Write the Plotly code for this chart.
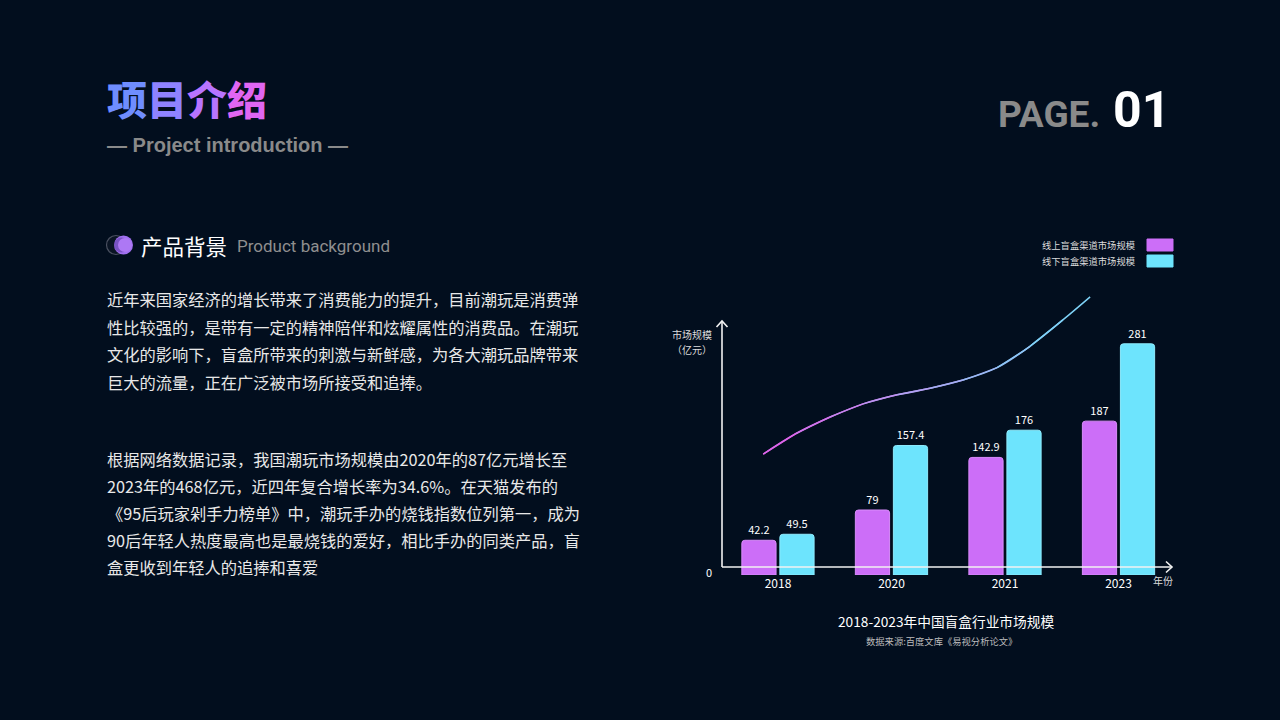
import plotly.graph_objects as go

# ---------------- data ----------------
years = ["2018", "2020", "2021", "2023"]
online = [42.2, 79, 142.9, 187]
offline = [49.5, 157.4, 176, 281]
online_name = "线上盲盒渠道市场规模"
offline_name = "线下盲盒渠道市场规模"
# decorative trend curve (x in category units, y in 亿元)
curve_x = [-0.13, 0.16, 0.46, 0.75, 1.05, 1.34, 1.63, 1.93, 2.22, 2.51, 2.75]
curve_y = [147, 172, 192, 208, 219, 227, 237, 252, 278, 310, 338]

para1 = [
    "近年来国家经济的增长带来了消费能力的提升，目前潮玩是消费弹",
    "性比较强的，是带有一定的精神陪伴和炫耀属性的消费品。在潮玩",
    "文化的影响下，盲盒所带来的刺激与新鲜感，为各大潮玩品牌带来",
    "巨大的流量，正在广泛被市场所接受和追捧。",
]
para2 = [
    "根据网络数据记录，我国潮玩市场规模由2020年的87亿元增长至",
    "2023年的468亿元，近四年复合增长率为34.6%。在天猫发布的",
    "《95后玩家剁手力榜单》中，潮玩手办的烧钱指数位列第一，成为",
    "90后年轻人热度最高也是最烧钱的爱好，相比手办的同类产品，盲",
    "盒更收到年轻人的追捧和喜爱",
]

W, H = 1280, 720
BG = "#020e1e"
PURPLE = "#cc6ef8"
CYAN = "#6de4fd"
CJK = "Noto Sans CJK SC"


def px(x, y):
    return x / W, 1 - y / H


fig = go.Figure()

xs = list(range(len(years)))
fig.add_trace(go.Bar(
    x=xs, y=online, name=online_name,
    marker=dict(color=PURPLE, line=dict(color="#d98cfb", width=1), cornerradius=3),
    text=[f"{v:g}" for v in online], textposition="outside",
    textfont=dict(color="#ffffff", size=11, family=CJK), cliponaxis=False,
))
fig.add_trace(go.Bar(
    x=xs, y=offline, name=offline_name,
    marker=dict(color=CYAN, line=dict(color="#8eebfd", width=1), cornerradius=3),
    text=[f"{v:g}" for v in offline], textposition="outside",
    textfont=dict(color="#ffffff", size=11, family=CJK), cliponaxis=False,
))


# gradient trend curve drawn piece by piece (overlapping spline pieces)
def lerp_color(c1, c2, t):
    a = [int(c1[i:i + 2], 16) for i in (1, 3, 5)]
    b = [int(c2[i:i + 2], 16) for i in (1, 3, 5)]
    return "#" + "".join(f"{round(a[k] + (b[k] - a[k]) * t):02x}" for k in range(3))


stops = ["#ea50e6", "#b79cf2", "#78d8f8"]
n = len(curve_x)
for i in range(n - 1):
    t = (i + 0.5) / (n - 1)
    if t < 0.5:
        col = lerp_color(stops[0], stops[1], t / 0.5)
    else:
        col = lerp_color(stops[1], stops[2], (t - 0.5) / 0.5)
    lo, hi = max(0, i - 1), min(n, i + 2)
    fig.add_trace(go.Scatter(
        x=curve_x[lo:hi], y=curve_y[lo:hi], mode="lines",
        line=dict(color=col, width=1.5, shape="spline", smoothing=1.0),
        showlegend=False, hoverinfo="skip", cliponaxis=False,
    ))

# plot area: x pixels 722..1173, y pixels 575 (0) .. 250
x0, x1 = 722, 1173
yb, yt = 575, 250
fig.update_layout(
    width=W, height=H,
    paper_bgcolor=BG, plot_bgcolor="rgba(0,0,0,0)",
    margin=dict(l=0, r=0, t=0, b=0),
    showlegend=False,
    barmode="group", bargap=0.33, bargroupgap=0.1,
    xaxis=dict(
        domain=[x0 / W, x1 / W], range=[-0.493, 3.48],
        tickvals=xs, ticktext=years, showgrid=False, zeroline=False,
        showline=False, ticks="", tickfont=dict(color="#ffffff", size=12, family=CJK),
        ticklabelstandoff=0,
    ),
    yaxis=dict(
        domain=[1 - yb / H, 1 - yt / H], range=[0, 395],
        showgrid=False, zeroline=False, showline=False, showticklabels=False,
    ),
)

shapes = []
axis_col = "#f2f2f2"


def seg(pts, width=1.6):
    path = "M " + " L ".join(f"{px(x, y)[0]},{px(x, y)[1]}" for x, y in pts)
    shapes.append(dict(type="path", xref="paper", yref="paper", path=path,
                       line=dict(color=axis_col, width=width), layer="above"))


# axes with arrows
seg([(722, 567), (1172, 567)])
seg([(1166, 561.5), (1172, 567), (1166, 572.5)])
seg([(722, 567), (722, 321)])
seg([(716.5, 327), (722, 321), (727.5, 327)])

# legend swatches
for yy, col in ((245, PURPLE), (261, CYAN)):
    a = px(1147, yy - 6)
    b = px(1173, yy + 6)
    shapes.append(dict(type="rect", xref="paper", yref="paper",
                       x0=a[0], x1=b[0], y0=b[1], y1=a[1],
                       fillcolor=col, line=dict(color=col, width=1)))


# section icon (two circles)
def circle(cx, cy, r, fill, line):
    a = px(cx - r, cy - r)
    b = px(cx + r, cy + r)
    shapes.append(dict(type="circle", xref="paper", yref="paper",
                       x0=a[0], x1=b[0], y0=b[1], y1=a[1],
                       fillcolor=fill, line=line))


circle(116, 245, 9.5, "#0a1424", dict(color="#4a5060", width=1.2))
circle(123.5, 245, 9.5, "#a070f0", dict(width=0))
circle(121.5, 245, 7.5, "rgba(90,60,160,0.55)", dict(width=0))
circle(125, 245, 7, "#ad78f4", dict(width=0))

fig.update_layout(shapes=shapes)

ann = []


def text(x, y, s, size, color, family=CJK, xanchor="left", weight=None):
    p = px(x, y)
    f = dict(size=size, color=color, family=family)
    if weight:
        f["weight"] = weight
    ann.append(dict(x=p[0], y=p[1], xref="paper", yref="paper", text=s,
                    showarrow=False, xanchor=xanchor, yanchor="middle", font=f))


# header
title = ('<span style="color:#6f8dff">项</span><span style="color:#8f82ff">目</span>'
         '<span style="color:#b874ff">介</span><span style="color:#e066f2">绍</span>')
text(105, 98, title, 40, "#ffffff", weight=900)
text(105, 145, "— Project introduction —", 20, "#8a8a8a",
     family="Liberation Sans", weight="bold")
text(1172, 110, '<span style="font-size:37px;color:#8a8a8a">PAGE.</span>'
     '<span style="font-size:26px">&nbsp;&nbsp;</span>'
     '<span style="font-size:50px;color:#ffffff">01</span>', 37, "#8a8a8a",
     family="Roboto", xanchor="right", weight="bold")

# section title
text(139, 245, "产品背景", 21.5, "#ffffff")
text(235, 246, "Product background", 17, "#8f8f8f", family="Roboto")

for i, line in enumerate(para1):
    text(105, 299 + i * 27.6, line, 16.25, "#e8e8e8")
for i, line in enumerate(para2):
    text(105, 459.5 + i * 26.8, line, 16.25, "#e8e8e8")

# chart texts
text(1137, 245, online_name, 9.3, "#dcdcdc", xanchor="right")
text(1137, 261, offline_name, 9.3, "#dcdcdc", xanchor="right")
text(714, 334, "市场规模", 10, "#dcdcdc", xanchor="right")
text(714, 349, "（亿元）", 10, "#dcdcdc", xanchor="right")
text(714, 572, "0", 11, "#ffffff", xanchor="right")
text(1163, 580, "年份", 10, "#dcdcdc", xanchor="center")
text(946, 621, "2018-2023年中国盲盒行业市场规模", 13.7, "#ffffff", xanchor="center")
text(941, 641, "数据来源:百度文库《易视分析论文》", 9.3, "#bdbdbd", xanchor="center")

fig.update_layout(annotations=ann)
fig.write_html(
    "out.html",
    config={"displayModeBar": False},
    post_script="document.body.style.margin='0';document.body.style.overflow='hidden';"
                "document.body.style.background='" + BG + "';",
)
